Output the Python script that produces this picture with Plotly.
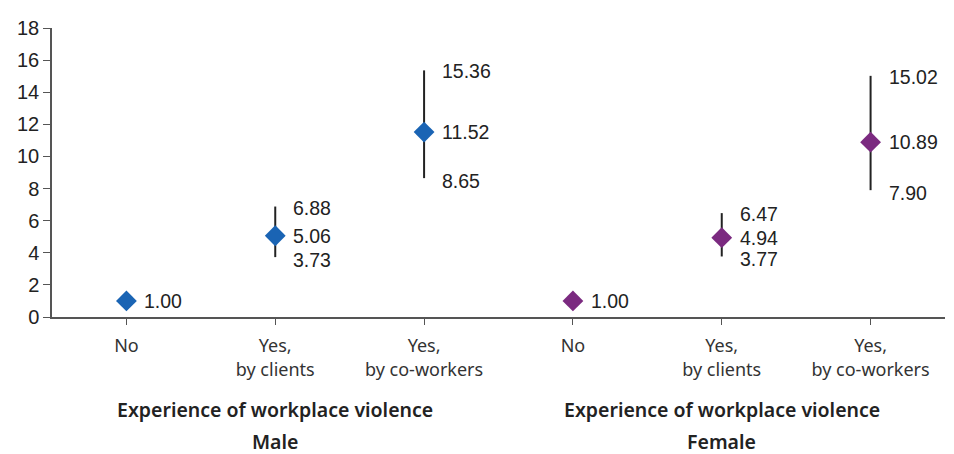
import plotly.graph_objects as go

categories = ["No", "Yes,<br>by clients", "Yes,<br>by co-workers"]
groups = ["Male", "Female"]
male_or = [1.00, 5.06, 11.52]
male_lower = [None, 3.73, 8.65]
male_upper = [None, 6.88, 15.36]
female_or = [1.00, 4.94, 10.89]
female_lower = [None, 3.77, 7.90]
female_upper = [None, 6.47, 15.02]
y_ticks = list(range(0, 19, 2))

colors = {"Male": "#1a64b4", "Female": "#7b2a80"}
series = {
    "Male": (male_or, male_lower, male_upper),
    "Female": (female_or, female_lower, female_upper),
}

fig = go.Figure()
annotations = []
tickvals, ticktext = [], []
label_font = dict(family="Liberation Sans, Arial", size=19.5, color="#222222")
title_font = dict(family="Noto Sans", size=19.5, color="#222222", weight=600)

for gi, g in enumerate(groups):
    vals, lo, hi = series[g]
    xs = [gi * len(categories) + i for i in range(len(categories))]
    tickvals += xs
    ticktext += categories
    plus = [(h - v) if h is not None else 0 for v, h in zip(vals, hi)]
    minus = [(v - l) if l is not None else 0 for v, l in zip(vals, lo)]
    fig.add_trace(go.Scatter(
        x=xs, y=vals, mode="markers",
        marker=dict(symbol="diamond", size=16, color=colors[g]),
        error_y=dict(type="data", symmetric=False, array=plus, arrayminus=minus,
                     width=0, thickness=2, color="#222222", visible=True),
        showlegend=False, hoverinfo="skip",
    ))
    for x, v, l, h in zip(xs, vals, lo, hi):
        annotations.append(dict(x=x, y=v, xref="x", yref="y", text=f"{v:.2f}",
                                showarrow=False, xanchor="left", yanchor="middle",
                                xshift=16, yshift=0, font=label_font))
        if h is not None:
            annotations.append(dict(x=x, y=h, xref="x", yref="y", text=f"{h:.2f}",
                                    showarrow=False, xanchor="left", yanchor="middle",
                                    xshift=16, yshift=-1, font=label_font))
        if l is not None:
            annotations.append(dict(x=x, y=l, xref="x", yref="y", text=f"{l:.2f}",
                                    showarrow=False, xanchor="left", yanchor="middle",
                                    xshift=16, yshift=-3, font=label_font))
    mid = xs[1]
    annotations.append(dict(x=mid, y=0, xref="x", yref="paper",
                            text="Experience of workplace violence", showarrow=False,
                            xanchor="center", yanchor="middle", yshift=-92,
                            font=title_font))
    annotations.append(dict(x=mid, y=0, xref="x", yref="paper", text=g, showarrow=False,
                            xanchor="center", yanchor="middle", yshift=-124,
                            font=title_font))

# page body has an 8px margin, so the figure is offset by 8px
fig.update_layout(
    width=946, height=446,
    margin=dict(l=44, r=9, t=14, b=137),
    plot_bgcolor="white", paper_bgcolor="white",
    annotations=annotations,
    xaxis=dict(range=[-0.5, 5.5], tickvals=tickvals, ticktext=ticktext,
               showgrid=False, zeroline=False, showline=True, linecolor="#555555",
               linewidth=1.5, ticks="outside", ticklen=6, tickcolor="#555555",
               ticklabelstandoff=6,
               tickfont=dict(family="Noto Sans", size=18, color="#333333")),
    yaxis=dict(range=[0, 18], tickvals=y_ticks, showgrid=False, zeroline=False,
               showline=True, linecolor="#555555", linewidth=1.5, ticks="outside",
               ticklen=7, tickcolor="#555555",
               tickfont=dict(family="Liberation Sans, Arial", size=20, color="#222222")),
)

fig.write_html("out.html")
